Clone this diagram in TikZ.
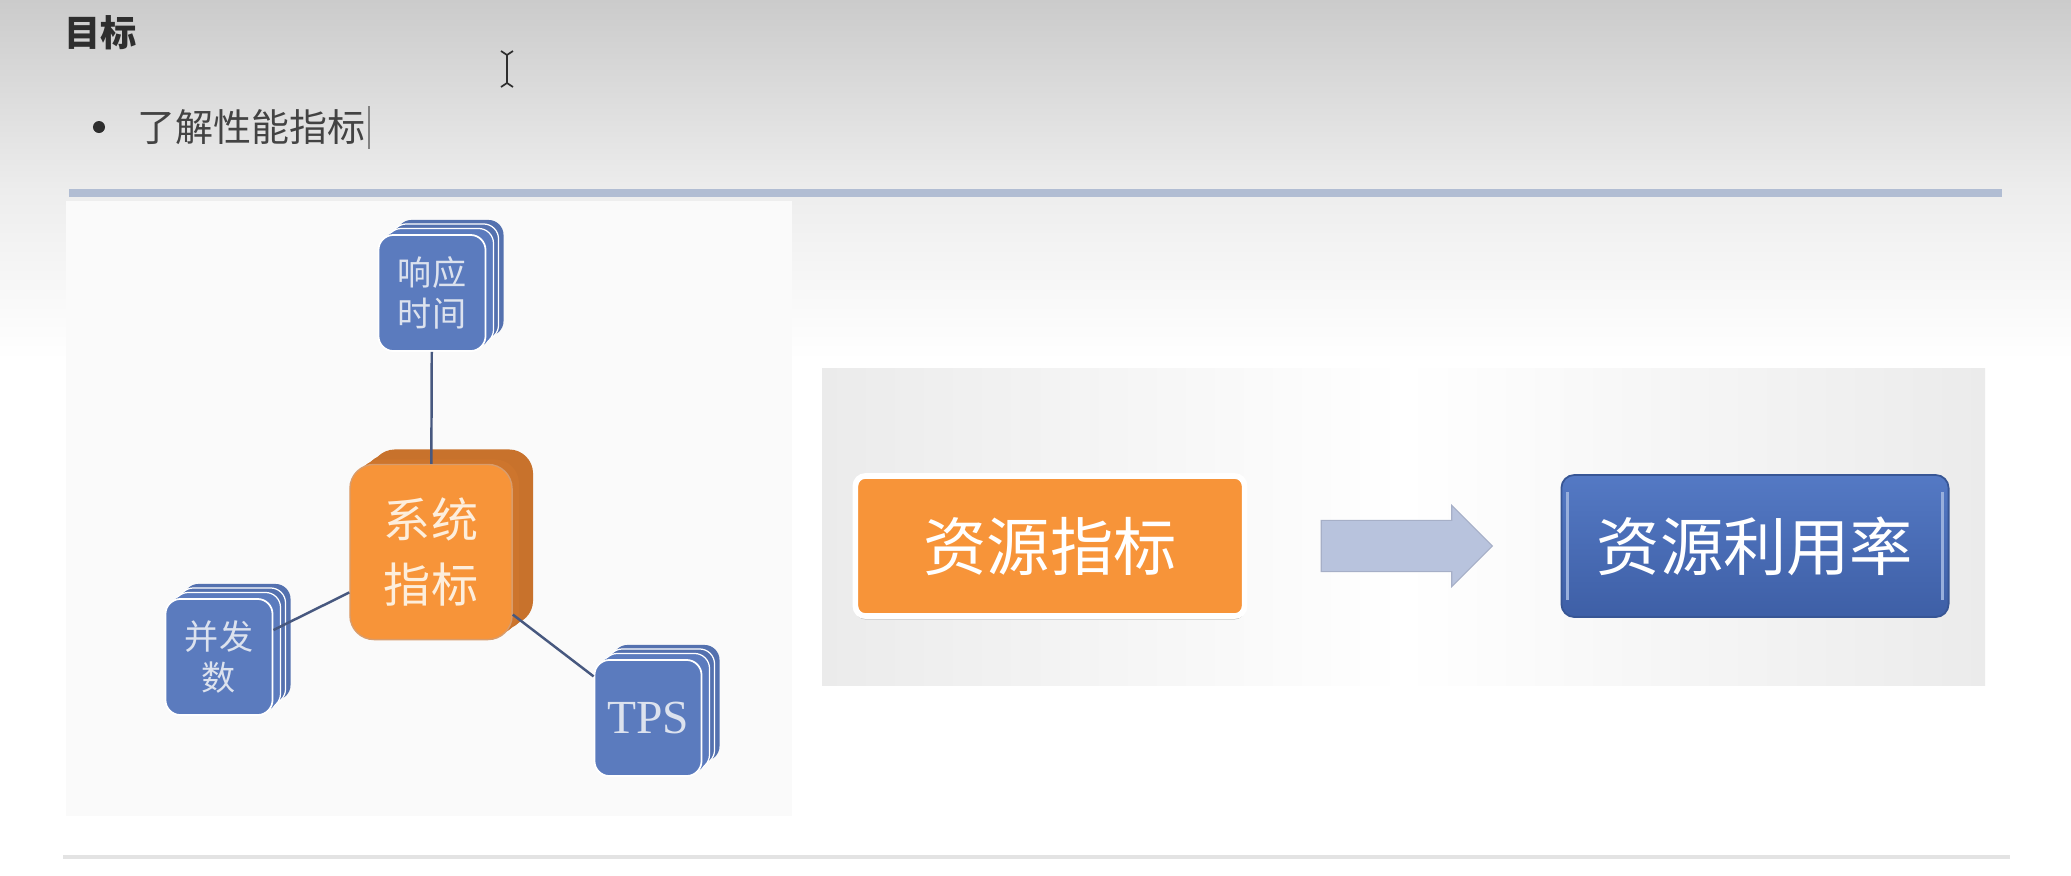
\documentclass[tikz,border=0pt]{standalone}
\usepackage{fontspec}
\newfontfamily\cjk{Noto Sans CJK SC}
\newfontfamily\tpsfont{Liberation Serif}
\usepackage{tikz}
\usetikzlibrary{shapes.arrows}
\definecolor{hdtop}{HTML}{CBCBCB}
\definecolor{hdbot}{HTML}{EDEDED}
\definecolor{rule}{HTML}{B1BDD3}
\definecolor{rule2}{HTML}{E3E3E3}
\definecolor{ink}{HTML}{2E2E2E}
\definecolor{mblue}{HTML}{5B7BBE}
\definecolor{mtext}{HTML}{DCE2EE}
\definecolor{sorange}{HTML}{F79439}
\definecolor{sdark}{HTML}{C8722C}
\definecolor{stext}{HTML}{FDEEDC}
\definecolor{linkc}{HTML}{47587F}
\definecolor{arrfill}{HTML}{B8C3DD}
\definecolor{ublue}{HTML}{5479C4}
\definecolor{ubluedk}{HTML}{3E5FA6}
\definecolor{panel}{HTML}{EBEBEB}
\tikzset{
  mbox/.style={rectangle,rounded corners=0.15cm,minimum width=1.07cm,minimum height=1.16cm,inner sep=0pt,
    fill=mblue,draw=white,line width=0.5pt,text=mtext,align=center,
    font=\cjk\fontsize{9.7}{11.7}\selectfont,
    preaction={fill=mblue!92!black,transform canvas={shift={(0.18cm,0.15cm)}}},
    preaction={fill=mblue!92!black,draw=white,line width=0.35pt,transform canvas={shift={(0.13cm,0.11cm)}}},
    preaction={fill=mblue,draw=white,line width=0.35pt,transform canvas={shift={(0.08cm,0.065cm)}}},
    preaction={fill=mblue,transform canvas={shift={(0.04cm,0.03cm)}}}},
  sysbox/.style={rectangle,rounded corners=0.24cm,minimum width=1.62cm,minimum height=1.75cm,inner sep=0pt,
    fill=sorange,draw=sdark!70,line width=0.4pt,text=stext,align=center,
    font=\cjk\fontsize{13.4}{18.5}\selectfont,
    preaction={fill=sdark,transform canvas={shift={(0.21cm,0.15cm)}}},
    preaction={fill=sdark,transform canvas={shift={(0.14cm,0.10cm)}}},
    preaction={fill=sdark!90!sorange,transform canvas={shift={(0.07cm,0.05cm)}}}},
  resbox/.style={rectangle,rounded corners=0.1cm,minimum width=3.89cm,minimum height=1.40cm,
    fill=sorange,draw=white,line width=1.6pt,text=white,font=\cjk\fontsize{18}{20}\selectfont,
    preaction={fill=black!22,transform canvas={shift={(0cm,-0.035cm)}}}},
  ratebox/.style={rectangle,rounded corners=0.13cm,minimum width=3.87cm,minimum height=1.42cm,
    top color=ublue,bottom color=ubluedk,draw=ubluedk!90!black,line width=0.5pt,text=white,
    font=\cjk\fontsize{18}{20}\selectfont},
  flow/.style={single arrow,single arrow head extend=0.15cm,inner sep=0.25cm,minimum height=1.71cm,
    fill=arrfill,draw=arrfill!90!black,line width=0.3pt},
  link/.style={draw=linkc,line width=0.7pt},
}
\begin{document}
\begin{tikzpicture}[x=0.01cm,y=-0.01cm]
\useasboundingbox (0,0) rectangle (2071,875);
% page and header band
\fill[white] (0,0) rectangle (2071,875);
\shade[top color=hdtop,bottom color=hdbot] (0,0) rectangle (2071,190);
\shade[top color=hdbot,bottom color=white] (0,190) rectangle (2071,360);
% heading and goal line
\node[anchor=west,inner sep=0pt,text=ink,font=\cjk\bfseries\fontsize{10.3}{12}\selectfont] (title) at (64,33) {目标};
\fill[ink] (99,127) circle (0.06cm);
\node[anchor=west,inner sep=0pt,text=ink!90,font=\cjk\fontsize{10.8}{13}\selectfont] (goal) at (137,127) {了解性能指标};
\draw[ink!60,line width=0.6pt] (goal.east) ++(3,-21) -- ++(0,43);
% mouse cursor
\draw[ink,line width=0.5pt] (501,51) -- (507,55) -- (513,51) (507,55) -- (507,83) (501,87) -- (507,83) -- (513,87);
% rules
\draw[rule,line width=2.3pt] (69,193) -- (2002,193);
\draw[rule2,line width=0.9pt] (63,857) -- (2010,857);
% panels
\fill[white!98!black] (66,201) rectangle (792,816);
\shade[left color=panel,right color=panel,middle color=white] (822,368) rectangle (1985,685);
% system metrics
\node[sysbox] (sys) at (431,552) {系统\\指标};
\node[mbox] (resp) at (432,293) {响应\\时间};
\node[mbox] (conc) at (219,657) {并发\\数};
\node[mbox,font=\tpsfont\fontsize{13.5}{16}\selectfont] (tps) at (648,718) {TPS};
\draw[link] (resp) -- (sys);
\draw[link] (conc) -- (sys);
\draw[link] (tps) -- (sys);
% resource metrics
\node[resbox] (res) at (1050,546) {资源指标};
\node[flow] (step1) at (1394,546) {};
\node[ratebox] (rate) at (1755,546) {资源利用率};
\draw[white!40!ublue,line width=0.9pt] ([xshift=0.07cm,yshift=-0.18cm]rate.north west) -- ([xshift=0.07cm,yshift=0.18cm]rate.south west);
\draw[white!40!ublue,line width=0.9pt] ([xshift=-0.07cm,yshift=-0.18cm]rate.north east) -- ([xshift=-0.07cm,yshift=0.18cm]rate.south east);
\end{tikzpicture}
\end{document}
